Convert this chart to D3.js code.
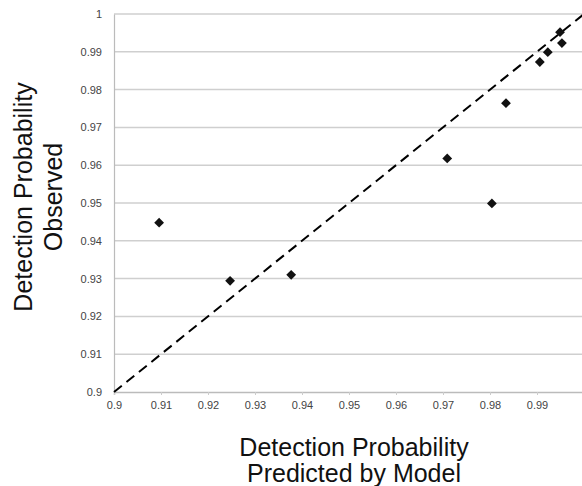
<!DOCTYPE html>
<html>
<head>
<meta charset="utf-8">
<script src="https://cdn.jsdelivr.net/npm/d3@7"></script>
<style>
  body { margin: 0; background: #fff; }
  svg { font-family: "Liberation Sans", Arial, sans-serif; display: block; }
  .tick text { fill: #444; font-size: 11px; }
</style>
</head>
<body>
<script>
// observed vs predicted detection probability
var predicted = [0.9096, 0.9247, 0.9377, 0.9709, 0.9804, 0.9834, 0.9906, 0.9923, 0.9949, 0.9953];
var observed  = [0.9448, 0.9294, 0.9310, 0.9618, 0.9499, 0.9764, 0.9873, 0.9899, 0.9952, 0.9923];
var xTicks = [0.9, 0.91, 0.92, 0.93, 0.94, 0.95, 0.96, 0.97, 0.98, 0.99];
var yTicks = [0.9, 0.91, 0.92, 0.93, 0.94, 0.95, 0.96, 0.97, 0.98, 0.99, 1];

var W = 582, H = 486;
var margin = { top: 14, right: -2, bottom: 94, left: 114 };
var width = W - margin.left - margin.right;
var height = H - margin.top - margin.bottom;

var svg = d3.select("body").append("svg")
    .attr("width", W)
    .attr("height", H);

var g = svg.append("g")
    .attr("transform", "translate(" + margin.left + "," + margin.top + ")");

var x = d3.scaleLinear().domain([0.9, 1]).range([0, width]);
var y = d3.scaleLinear().domain([0.9, 1]).range([height, 0]);

var fmt = function (d) { return d === 1 ? "1" : d3.format(".2~f")(d); };

// horizontal gridlines
g.selectAll(".grid")
    .data(yTicks.slice(1))
    .enter().append("line")
    .attr("x1", 0)
    .attr("x2", width)
    .attr("y1", function (d) { return y(d); })
    .attr("y2", function (d) { return y(d); })
    .style("stroke", "#cfcfcf")
    .style("stroke-width", 1.5);

// y axis
var yAxis = g.append("g")
    .call(d3.axisLeft(y).tickValues(yTicks).tickSize(0).tickPadding(12).tickFormat(fmt));
yAxis.select(".domain").style("stroke", "#bbb").style("stroke-width", 1.2);

// x axis
var xAxis = g.append("g")
    .attr("transform", "translate(0," + height + ")")
    .call(d3.axisBottom(x).tickValues(xTicks).tickSize(3).tickPadding(6).tickFormat(fmt));
xAxis.select(".domain").style("stroke", "#bbb").style("stroke-width", 1.5);
xAxis.selectAll(".tick line").style("stroke", "#ccc");

// 1:1 line
g.append("line")
    .attr("x1", x(0.9)).attr("y1", y(0.9))
    .attr("x2", x(1)).attr("y2", y(1))
    .style("stroke", "#000")
    .style("stroke-width", 2)
    .style("stroke-dasharray", "10,6");

// points (square turned 45 degrees)
var marker = d3.symbol().type(d3.symbolSquare).size(48);
g.selectAll(".pt")
    .data(predicted)
    .enter().append("path")
    .attr("d", marker)
    .attr("transform", function (d, i) {
        return "translate(" + x(d) + "," + y(observed[i]) + ") rotate(45)";
    })
    .style("fill", "#111");

// x title
var xt = svg.append("text")
    .attr("text-anchor", "middle")
    .attr("font-size", 25)
    .attr("fill", "#111");
xt.append("tspan").attr("x", 354).attr("y", 456).text("Detection Probability");
xt.append("tspan").attr("x", 354).attr("y", 482).text("Predicted by Model");

// y title
var yt = svg.append("text")
    .attr("text-anchor", "middle")
    .attr("font-size", 25)
    .attr("fill", "#111")
    .attr("transform", "translate(0,197) rotate(-90)");
yt.append("tspan").attr("x", 0).attr("y", 32).text("Detection Probability");
yt.append("tspan").attr("x", 0).attr("y", 62).text("Observed");
</script>
</body>
</html>
